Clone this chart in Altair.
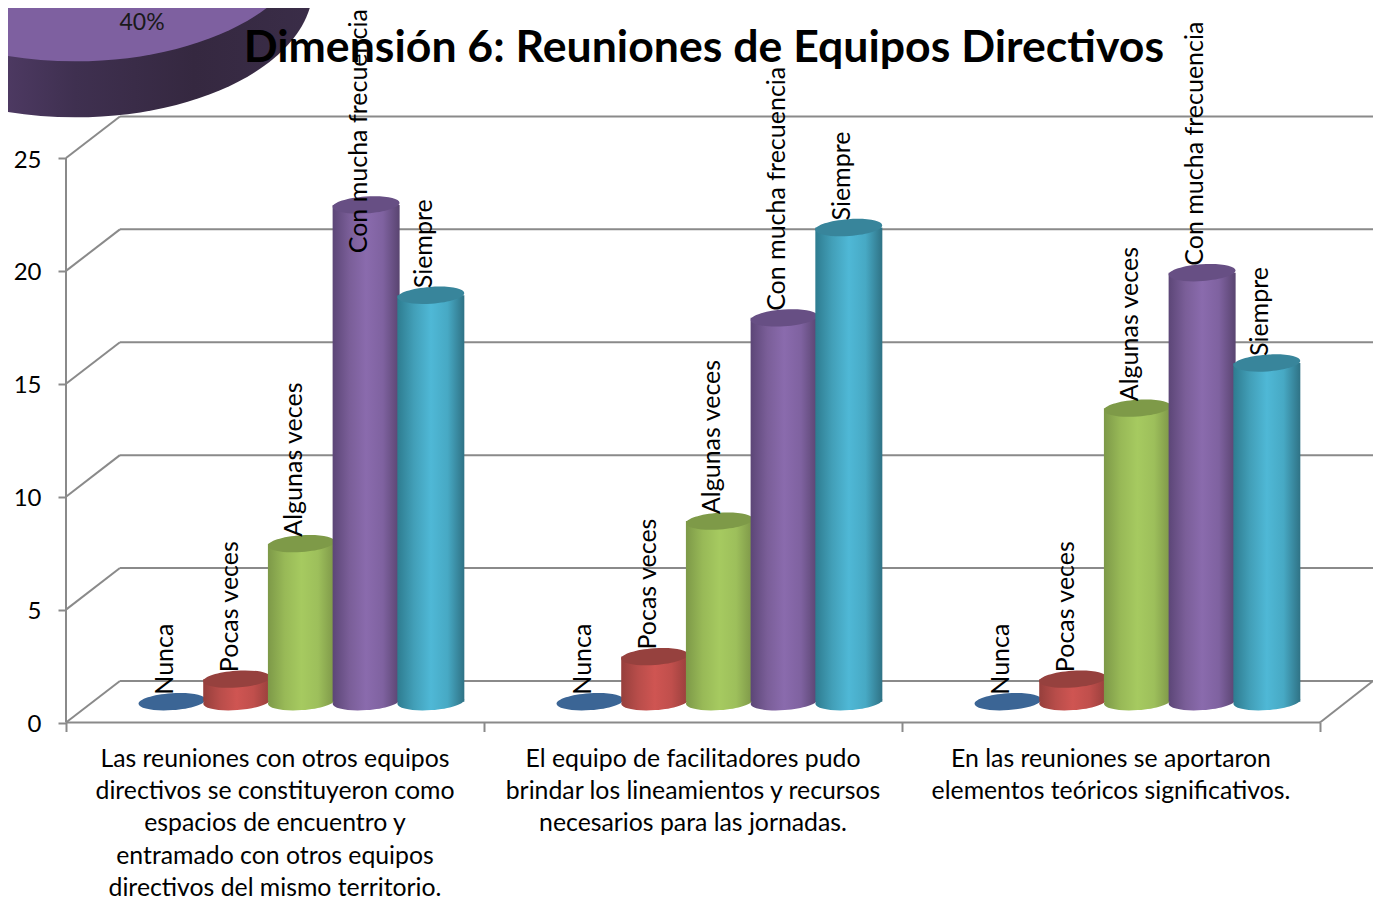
import math
import altair as alt
import pandas as pd

TITLE = "Dimensión 6: Reuniones de Equipos Directivos"
SERIES = ["Nunca", "Pocas veces", "Algunas veces", "Con mucha frecuencia", "Siempre"]
GROUPS = [
    "Las reuniones con otros equipos\ndirectivos se constituyeron como\nespacios de encuentro y\nentramado con otros equipos\ndirectivos del mismo territorio.",
    "El equipo de facilitadores pudo\nbrindar los lineamientos y recursos\nnecesarios para las jornadas.",
    "En las reuniones se aportaron\nelementos teóricos significativos.",
]
VALUES = [
    [0, 1, 7, 22, 18],
    [0, 2, 8, 17, 21],
    [0, 1, 13, 19, 15],
]
LABEL_LEVELS = [
    [0, 1, 7, 19.55, 18],
    [0, 2, 8, 17, 21],
    [0, 1, 13, 19, 15],
]
Y_TICKS = [0, 5, 10, 15, 20, 25]
GROUP_EDGES = [0, 1, 2, 3]

TOP_COLORS = ["#3b6595", "#96413e", "#7e9a48", "#674f84", "#38859b"]
BODY_STOPS = [
    ["#2f5f95", "#3f6c9f", "#3f6c9f", "#3f6c9f", "#2f5f95"],
    ["#963f3c", "#b84d4a", "#cf5552", "#c04f4c", "#983f3c"],
    ["#7d9948", "#98b957", "#a6ca60", "#9dbf5b", "#7d9648"],
    ["#5c4677", "#7a5e98", "#8a6bad", "#7f62a0", "#594470"],
    ["#2e7c90", "#429fb8", "#4fb8d6", "#47a9c4", "#2f7285"],
]
PIE_STOPS = ["#6b5287", "#57406f", "#3f3050", "#352840", "#3a2d48"]

FONT = "Lato"
GRID = "#8a8a8a"
W, H = 1365, 891
X0, X_UNIT = 58.0, 418.0
Y0, Y_UNIT = 714.5, 22.58
DEPTH_X, DEPTH_Y = 0.129, 1.84
X_END = (W - X0) / X_UNIT
SLOT0, SLOT_STEP = 0.2536, 0.1548
CYL_W = 67

x_scale = alt.Scale(domain=[-X0 / X_UNIT, (W - X0) / X_UNIT], nice=False, zero=False, padding=0)
y_scale = alt.Scale(domain=[-(H - Y0) / Y_UNIT, Y0 / Y_UNIT], nice=False, zero=False, padding=0)

x_axis = alt.Axis(values=GROUP_EDGES, labels=False, domain=False, grid=False, title=None,
                  offset=-(H - Y0), tickColor=GRID, tickWidth=2, tickSize=9)
y_axis = alt.Axis(values=Y_TICKS, domain=False, grid=False, title=None, offset=-X0,
                  tickColor=GRID, tickWidth=2, tickSize=8, labelPadding=17, labelOffset=2,
                  labelFont=FONT, labelFontSize=24, labelColor="black")


def X(field="x"):
    return alt.X(field, type="quantitative", scale=x_scale, axis=x_axis)


def Y(field="y"):
    return alt.Y(field, type="quantitative", scale=y_scale, axis=y_axis)


def ellipse(ratio, tilt_deg=0.0):
    k = 0.5523
    t = math.radians(tilt_deg)

    def p(a, b):
        return f"{a * math.cos(t) + b * ratio * math.sin(t):.4f},{-a * math.sin(t) + b * ratio * math.cos(t):.4f}"

    return (
        f"M{p(-1, 0)}C{p(-1, k)} {p(-k, 1)} {p(0, 1)}C{p(k, 1)} {p(1, k)} {p(1, 0)}"
        f"C{p(1, -k)} {p(k, -1)} {p(0, -1)}C{p(-k, -1)} {p(-1, -k)} {p(-1, 0)}Z"
    )


def h_grad(colors):
    n = len(colors) - 1
    return {
        "gradient": "linear", "x1": 0, "x2": 1, "y1": 0, "y2": 0,
        "stops": [{"color": c, "offset": i / n} for i, c in enumerate(colors)],
    }


def rules(rows):
    return (
        alt.Chart(pd.DataFrame(rows, columns=["x", "x2", "y", "y2"]))
        .mark_rule(color=GRID, strokeWidth=2)
        .encode(x=X("x"), x2="x2", y=Y("y"), y2="y2")
    )


# walls and floor
back = [(DEPTH_X, X_END, v + DEPTH_Y, v + DEPTH_Y) for v in Y_TICKS]
diag = [(0, DEPTH_X, v, v + DEPTH_Y) for v in Y_TICKS]
frame = [(0, 0, 0, 25), (0, 3, 0, 0), (3, X_END, 0, DEPTH_Y)]
walls = rules(back + diag + frame)

# pie fragment from the slide behind the chart
PIE_X, PIE_TOP_Y, PIE_SIDE_Y, PIE_RX, PIE_RATIO = 0.0215, 35.08, 32.6, 238, 0.55
pie_side = alt.Chart(pd.DataFrame({"x": [PIE_X], "y": [PIE_SIDE_Y]})).mark_point(
    shape=ellipse(PIE_RATIO), size=(2 * PIE_RX) ** 2, filled=True, opacity=1,
    fill=h_grad(PIE_STOPS), clip=False,
).encode(x=X(), y=Y())
pie_top = alt.Chart(pd.DataFrame({"x": [PIE_X], "y": [PIE_TOP_Y]})).mark_point(
    shape=ellipse(PIE_RATIO), size=(2 * PIE_RX) ** 2, filled=True, opacity=1, fill="#7e60a0", clip=False,
).encode(x=X(), y=Y())
pie_label = alt.Chart(pd.DataFrame({"x": [0.182], "y": [31.0], "t": ["40%"]})).mark_text(
    font=FONT, fontSize=23, color="#1a1a1a", align="center", baseline="middle",
).encode(x=X(), y=Y(), text="t:N")

title = alt.Chart(pd.DataFrame({"x": [1.526], "y": [29.25], "t": [TITLE]})).mark_text(
    font=FONT, fontSize=44.6, fontWeight="bold", color="black", align="center", baseline="alphabetic",
).encode(x=X(), y=Y(), text="t:N")

# cylinders
rows = []
for g, vals in enumerate(VALUES):
    for s, v in enumerate(vals):
        rows.append({
            "series": SERIES[s], "s": s,
            "x": g + SLOT0 + s * SLOT_STEP,
            "base": DEPTH_Y / 2,
            "y": v + DEPTH_Y / 2,
            "label_y": LABEL_LEVELS[g][s] + DEPTH_Y / 2,
        })
df = pd.DataFrame(rows)

cylinders = []
for s in range(len(SERIES)):
    d = df[df.s == s]
    grad = h_grad(BODY_STOPS[s])
    if s > 0:
        bottom = alt.Chart(d).mark_point(
            shape=ellipse(0.25, 4), size=CYL_W ** 2, filled=True, opacity=1, fill=grad,
        ).encode(x=X(), y=Y("base"))
        body = alt.Chart(d).mark_bar(size=CYL_W, fill=grad).encode(x=X(), y=Y("y"), y2="base")
        cylinders += [bottom, body]
    top = alt.Chart(d).mark_point(
        shape=ellipse(0.25, 4), size=CYL_W ** 2, filled=True, opacity=1, fill=TOP_COLORS[s],
    ).encode(x=X(), y=Y())
    cylinders.append(top)

labels = alt.Chart(df).mark_text(
    angle=270, align="left", baseline="middle", dx=7, dy=-7, font=FONT, fontSize=25, color="black",
).encode(x=X(), y=Y("label_y"), text="series:N")

cats = alt.Chart(pd.DataFrame({"x": [0.5, 1.5, 2.5], "y": [-1.07] * 3, "t": GROUPS})).mark_text(
    lineBreak="\n", lineHeight=32.3, align="center", baseline="top", font=FONT, fontSize=24.8, color="black",
).encode(x=X(), y=Y(), text="t:N")

chart = alt.layer(pie_side, pie_top, pie_label, walls, *cylinders, title, labels, cats).properties(
    width=W, height=H, padding=0, autosize=alt.AutoSizeParams(type="none"), background="white",
).configure_view(stroke=None)

chart.save("out.html", embed_options={"renderer": "svg", "actions": False})
